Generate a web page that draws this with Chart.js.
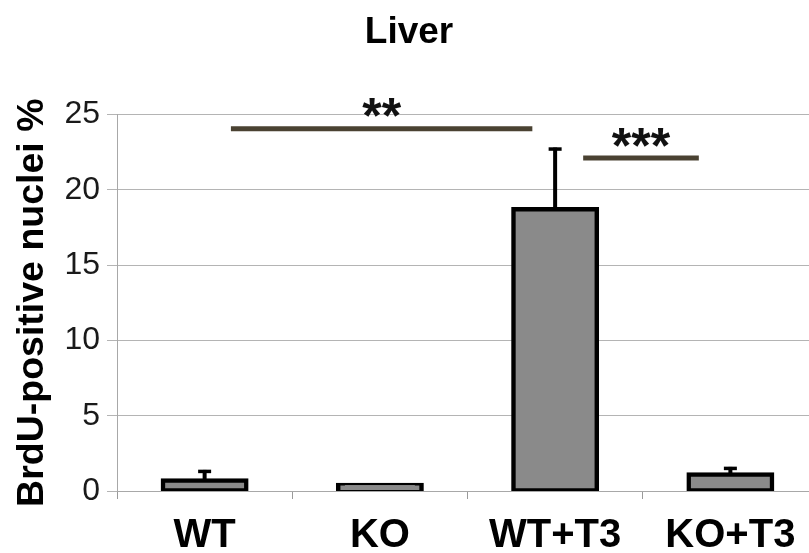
<!DOCTYPE html>
<html>
<head>
<meta charset="utf-8">
<script src="https://cdn.jsdelivr.net/npm/chart.js@4/dist/chart.umd.min.js"></script>
<style>
  html, body { margin: 0; padding: 0; background: #ffffff; overflow: hidden; }
  #wrap { width: 809px; height: 553px; overflow: hidden; }
  canvas { display: block; }
</style>
</head>
<body>
<div id="wrap"><canvas id="chart" width="904" height="553"></canvas></div>
<script>
// Liver: BrdU-positive nuclei (%) per group, mean with error
const groups = ['WT', 'KO', 'WT+T3', 'KO+T3'];
const meanValues = [0.7, 0.4, 18.7, 1.1];
const errorValues = [0.6, 0, 4.0, 0.4];
const yTicks = [0, 5, 10, 15, 20, 25];

// Significance brackets: from/to on the category axis, height in data units
const sigFrom = [0.15, 2.16];
const sigTo = [1.87, 2.82];
const sigLevel = [24.05, 22.1];
const sigText = ['**', '***'];

const FONT = '"Liberation Sans", Arial, Helvetica, sans-serif';

const errorBarPlugin = {
  id: 'errorBars',
  afterDatasetsDraw(chart) {
    const { ctx, scales: { x, y } } = chart;
    ctx.save();
    ctx.strokeStyle = '#000000';
    meanValues.forEach((m, i) => {
      if (!errorValues[i]) return;
      const px = x.getPixelForValue(i);
      const y0 = y.getPixelForValue(m);
      const y1 = y.getPixelForValue(m + errorValues[i]);
      ctx.lineWidth = 4;
      ctx.lineCap = 'butt';
      ctx.beginPath();
      ctx.moveTo(px, y0);
      ctx.lineTo(px, y1 - 1.5);
      ctx.stroke();
      ctx.lineWidth = 3.5;
      ctx.beginPath();
      ctx.moveTo(px - 6.5, y1);
      ctx.lineTo(px + 6.5, y1);
      ctx.stroke();
    });
    ctx.restore();
  }
};

const significancePlugin = {
  id: 'significance',
  afterDraw(chart) {
    const { ctx, scales: { x, y } } = chart;
    ctx.save();
    sigText.forEach((t, i) => {
      const xa = x.getPixelForValue(sigFrom[i]);
      const xb = x.getPixelForValue(sigTo[i]);
      const py = y.getPixelForValue(sigLevel[i]);
      ctx.strokeStyle = '#4a4232';
      ctx.lineWidth = 5;
      ctx.lineCap = 'butt';
      ctx.beginPath();
      ctx.moveTo(xa, py);
      ctx.lineTo(xb, py);
      ctx.stroke();
      ctx.fillStyle = '#111111';
      ctx.font = 'bold 50px ' + FONT;
      ctx.textAlign = 'center';
      ctx.textBaseline = 'middle';
      ctx.fillText(t, (xa + xb) / 2, py - 9);
    });
    ctx.restore();
  }
};

new Chart(document.getElementById('chart'), {
  type: 'bar',
  data: {
    labels: groups,
    datasets: [{
      data: meanValues,
      backgroundColor: '#8a8a8a',
      borderColor: '#000000',
      borderWidth: 4.5,
      borderSkipped: false,
      inflateAmount: 2.25,
      barPercentage: 0.476,
      categoryPercentage: 1.0
    }]
  },
  options: {
    responsive: false,
    devicePixelRatio: 1,
    animation: false,
    layout: { padding: { left: 0, right: 86, top: 0, bottom: 0 } },
    plugins: {
      legend: { display: false },
      tooltip: { enabled: false },
      title: {
        display: true,
        text: 'Liver',
        color: '#000000',
        font: { family: FONT, size: 37, weight: 'bold', lineHeight: 1.2 },
        padding: { top: 11, bottom: 59 }
      }
    },
    scales: {
      x: {
        grid: {
          display: true,
          drawOnChartArea: false,
          color: '#9a9a9a',
          tickLength: 8,
          offset: true
        },
        border: { display: true, color: '#a8a8a8', width: 1 },
        ticks: {
          color: '#000000',
          padding: 13,
          font: { family: FONT, size: 40, weight: 'bold' }
        },
        afterFit(scale) { scale.height = 62; }
      },
      y: {
        min: 0,
        max: 25,
        afterBuildTicks(scale) { scale.ticks = yTicks.map(v => ({ value: v })); },
        grid: { color: '#b4b4b4', lineWidth: 1, tickLength: 10 },
        border: { display: true, color: '#a8a8a8', width: 1 },
        ticks: {
          color: '#1a1a1a',
          padding: 7,
          font: { family: FONT, size: 32 }
        },
        title: {
          display: true,
          text: 'BrdU-positive nuclei %',
          color: '#000000',
          font: { family: FONT, size: 37.5, weight: 'bold', lineHeight: 1.2 },
          padding: { top: 10, bottom: 0 }
        },
        afterFit(scale) { scale.width = 117; }
      }
    }
  },
  plugins: [errorBarPlugin, significancePlugin]
});
</script>
</body>
</html>
